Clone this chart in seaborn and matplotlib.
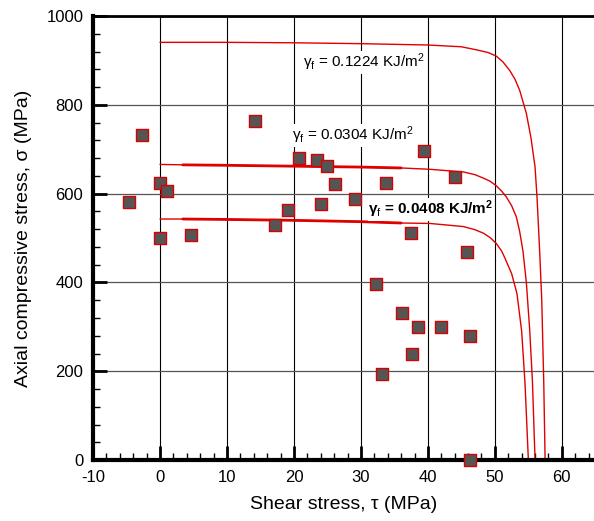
import numpy as np
import matplotlib
matplotlib.use("Agg")
import matplotlib.pyplot as plt
import seaborn as sns
from matplotlib.ticker import MultipleLocator

# measured points (shear stress tau, axial stress sigma), MPa
tau_pts = [-4.6, -2.75, 0.0, 1.1, 0.0, 4.7, 14.2, 17.2, 19.1, 20.8, 23.4, 25.0, 26.2, 24.0,
           29.1, 33.7, 39.4, 44.1, 37.5, 45.9, 32.3, 36.1, 38.5, 41.9, 46.3, 37.6, 33.2, 46.3]
sig_pts = [581, 732, 625, 607, 501, 508, 764, 529, 564, 680, 676, 663, 621, 576,
           589, 625, 697, 637, 511, 468, 396, 332, 300, 299, 280, 240, 194, 0]

# failure envelopes
tau_1224 = [0, 10, 20, 30, 40, 45, 47.3, 49, 50.2, 51.2, 52.2, 53.0, 53.7, 54.7, 55.4, 56.0, 56.3, 56.7, 57.0, 57.3, 57.5]
sig_1224 = [941, 941, 940, 938, 935, 931, 924, 918, 910, 897, 878, 858, 833, 781, 725, 660, 590, 466, 360, 173, 0]

tau_0304 = [0, 3.4, 10, 20, 30, 36, 40.3, 45.3, 47.0, 48.3, 49.3, 50.2, 51.0, 51.7, 52.5, 53.2, 53.7, 54.2, 54.7, 55.2, 55.6, 56.0]
sig_0304 = [666, 665, 664, 662, 660, 658, 655, 649, 643, 635, 628, 618, 606, 593, 573, 548, 515, 470, 400, 293, 180, 0]

tau_0408 = [0, 3.4, 10, 20, 30, 36, 40.3, 45.3, 47.0, 48.3, 49.3, 50.2, 51.0, 51.5, 52.5, 53.3, 54.0, 54.5, 55.0]
sig_0408 = [543, 543, 542, 540, 537, 534, 533, 526, 519, 511, 501, 488, 471, 455, 420, 375, 290, 173, 0]

labels = ["γ$_\\mathrm{f}$ = 0.1224 KJ/m$^2$",
          "γ$_\\mathrm{f}$ = 0.0304 KJ/m$^2$",
          "γ$_\\mathrm{f}$ = 0.0408 KJ/m$^\\mathbf{2}$"]
label_pos = [(21.3, 896), (19.7, 732), (31.1, 565)]

sns.set_style("ticks")
plt.rcParams['font.family'] = ['Liberation Sans', 'DejaVu Sans']
plt.rcParams['mathtext.fontset'] = 'custom'
plt.rcParams['mathtext.rm'] = 'Liberation Sans'
plt.rcParams['mathtext.it'] = 'Liberation Sans:italic'
plt.rcParams['mathtext.bf'] = 'Liberation Sans:bold'
plt.rcParams['axes.unicode_minus'] = False
plt.rcParams['text.color'] = 'black'
plt.rcParams['axes.labelcolor'] = 'black'
plt.rcParams['xtick.color'] = 'black'
plt.rcParams['ytick.color'] = 'black'
plt.rcParams['axes.edgecolor'] = 'black'

fig = plt.figure(figsize=(5.94, 5.21), dpi=100)
ax = fig.add_axes([0.1566, 0.117, 0.8434, 0.852])

red = '#e00000'
for t, s in [(tau_1224, sig_1224), (tau_0304, sig_0304), (tau_0408, sig_0408)]:
    sns.lineplot(x=t, y=s, ax=ax, sort=False, estimator=None, color=red, lw=1.0, zorder=2)

# overlapping runs make the middle part of the two lower curves look heavier
for t, s in [(tau_0304, sig_0304), (tau_0408, sig_0408)]:
    t = np.array(t)
    s = np.array(s)
    keep = (t >= 3.4) & (t <= 36)
    sns.lineplot(x=t[keep], y=s[keep], ax=ax, sort=False, estimator=None, color=red, lw=2.0, zorder=2)

sns.scatterplot(x=tau_pts, y=sig_pts, ax=ax, marker='s', s=78, color='#555555',
                edgecolor='#d80000', linewidth=1.0, zorder=4, clip_on=False)

for i, (txt, (px, py)) in enumerate(zip(labels, label_pos)):
    ax.text(px, py, txt, fontsize=11, va='center', ha='left',
            fontweight='bold' if i == 2 else 'normal', zorder=3,
            bbox=dict(facecolor='white', edgecolor='none', pad=0.5))

ax.set_xlim(-10, 64.8)
ax.set_ylim(0, 1000)
ax.xaxis.set_major_locator(MultipleLocator(10))
ax.xaxis.set_minor_locator(MultipleLocator(2))
ax.yaxis.set_major_locator(MultipleLocator(200))
ax.yaxis.set_minor_locator(MultipleLocator(40))

ax.grid(True, axis='x', which='major', color='black', lw=0.8)
ax.grid(True, axis='y', which='major', color='#555555', lw=0.9)
ax.set_axisbelow(True)

ax.tick_params(which='major', direction='in', length=10, width=2, labelsize=12, pad=7,
               top=False, right=False)
ax.tick_params(which='minor', direction='in', length=5, width=1, top=False, right=False)

ax.spines['left'].set_linewidth(3)
ax.spines['bottom'].set_linewidth(3)
ax.spines['top'].set_linewidth(2)
ax.spines['right'].set_visible(False)

ax.set_xlabel('Shear stress, τ (MPa)', fontsize=14, labelpad=8)
ax.set_ylabel('Axial compressive stress, σ (MPa)', fontsize=14, labelpad=10)

fig.savefig('out.png', dpi=100)
